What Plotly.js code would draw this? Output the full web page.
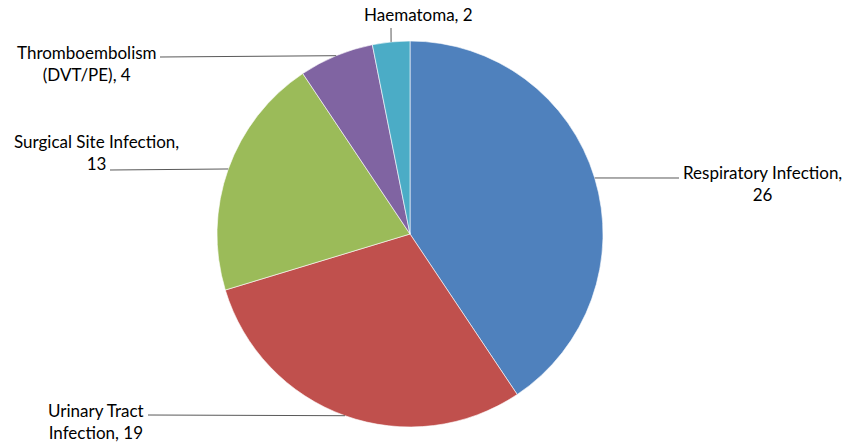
<!DOCTYPE html>
<html>
<head>
<meta charset="utf-8">
<script src="https://cdn.plot.ly/plotly-3.0.1.min.js"></script>
<style>html,body{margin:0;padding:0;background:#fff;}#chart{width:850px;height:444px;}</style>
</head>
<body>
<div id="chart"></div>
<script>
// ---- data ----
const categories = ["Respiratory Infection", "Urinary Tract Infection", "Surgical Site Infection", "Thromboembolism (DVT/PE)", "Haematoma"];
const counts = [26, 19, 13, 4, 2];
const labelTexts = ["Respiratory Infection,<br>26", "Urinary Tract<br>Infection, 19", "Surgical Site Infection,<br>13", "Thromboembolism<br>(DVT/PE), 4", "Haematoma, 2"];
const colors = ["#4F81BD", "#C0504D", "#9BBB59", "#8064A2", "#4BACC6"];

// ---- layout geometry (pixels) ----
const W = 850, H = 444;
const cx = 410, cy = 234, R = 193;
// label centres and leader start points (pixels)
const labelPos = [[762, 183], [96, 421], [96, 152], [87, 63], [418, 14]];
const leaderStart = [[679, 178], [148, 415], [110, 170], [160, 57], [391, 28]];

const px = x => x / W;
const py = y => 1 - y / H;

// slice mid angles from data (clockwise from top)
const total = counts.reduce((a, b) => a + b, 0);
let cum = 0;
const shapes = [];
const annotations = [];
counts.forEach((v, i) => {
  const mid = (cum + v / 2) / total * 2 * Math.PI;
  cum += v;
  const ex = cx + R * Math.sin(mid);
  const ey = cy - R * Math.cos(mid);
  const [sx, sy] = leaderStart[i];
  shapes.push({type: "line", xref: "paper", yref: "paper",
    x0: px(sx), y0: py(sy), x1: px(ex), y1: py(ey),
    line: {color: "#595959", width: 1}});
  annotations.push({xref: "paper", yref: "paper", x: px(labelPos[i][0]), y: py(labelPos[i][1]),
    xanchor: "center", yanchor: "middle", align: "center", showarrow: false,
    text: labelTexts[i], font: {family: "Lato, 'Open Sans', sans-serif", size: 17, color: "#000"}});
});

const trace = {
  type: "pie",
  values: counts,
  labels: categories,
  sort: false,
  direction: "clockwise",
  rotation: 0,
  textinfo: "none",
  hoverinfo: "label+value",
  marker: {colors: colors, line: {color: "rgba(255,255,255,0.6)", width: 1}},
  domain: {x: [(cx - R) / W, (cx + R) / W], y: [1 - (cy + R) / H, 1 - (cy - R) / H]}
};

const layout = {
  width: W, height: H,
  margin: {l: 0, r: 0, t: 0, b: 0},
  paper_bgcolor: "#fff",
  showlegend: false,
  shapes: shapes,
  annotations: annotations
};

Plotly.newPlot("chart", [trace], layout, {displayModeBar: false, staticPlot: true});
</script>
</body>
</html>
